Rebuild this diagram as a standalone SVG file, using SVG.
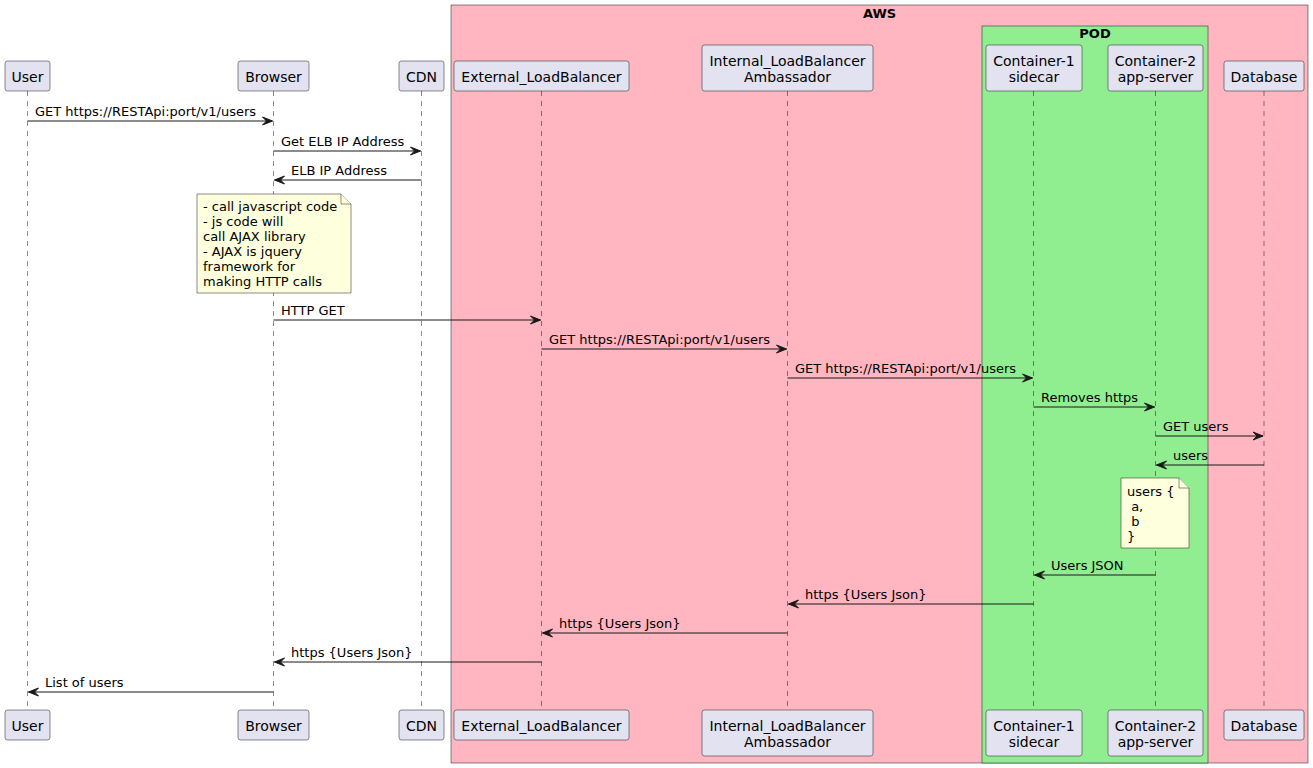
<svg xmlns="http://www.w3.org/2000/svg" width="1313" height="768" viewBox="0 0 1313 768">
<style>
text{font-family:"DejaVu Sans","Liberation Sans",sans-serif;font-size:13px;fill:#000;white-space:pre}
.t{font-weight:bold}
.c{text-anchor:middle}
.pt{font-size:14px}
.p{fill:#E2E2F0;stroke:#181818;stroke-width:0.5}
.ll{stroke:#181818;stroke-width:0.5;stroke-dasharray:5,5}
.m{stroke:#181818;stroke-width:1;fill:none;marker-end:url(#ah)}
.n{fill:#FEFFDD;stroke:#181818;stroke-width:0.5}
</style>
<defs>
<marker id="ah" viewBox="-1 -1 12 10" refX="10" refY="4" markerWidth="12" markerHeight="10" markerUnits="userSpaceOnUse" orient="auto" overflow="visible">
<path d="M0,0 L10,4 L0,8 L4,4 Z" fill="#181818" stroke="#181818" stroke-width="1" stroke-linejoin="miter"/>
</marker>
</defs>
<rect width="1313" height="768" fill="#FFFFFF"/>
<g id="box-aws">
<rect x="451" y="5" width="857" height="758" fill="#FFB6C1" stroke="#181818" stroke-width="0.5"/>
<text class="t c" x="879.5" y="18">AWS</text>
</g>
<g id="box-pod">
<rect x="982" y="26" width="226" height="737" fill="#90EE90" stroke="#181818" stroke-width="0.5"/>
<text class="t c" x="1095" y="38">POD</text>
</g>
<g id="lifelines">
<line class="ll" x1="27.5" y1="91" x2="27.5" y2="710"/>
<line class="ll" x1="273.5" y1="91" x2="273.5" y2="710"/>
<line class="ll" x1="421.5" y1="91" x2="421.5" y2="710"/>
<line class="ll" x1="541.5" y1="91" x2="541.5" y2="710"/>
<line class="ll" x1="787.5" y1="91" x2="787.5" y2="710"/>
<line class="ll" x1="1033.5" y1="91" x2="1033.5" y2="710"/>
<line class="ll" x1="1155.5" y1="91" x2="1155.5" y2="710"/>
<line class="ll" x1="1264" y1="91" x2="1264" y2="710"/>
</g>
<g id="user">
<rect class="p" x="5" y="61" width="45" height="30" rx="2.5"/>
<text class="c pt" x="27.5" y="82">User</text>
<rect class="p" x="5" y="710" width="45" height="30" rx="2.5"/>
<text class="c pt" x="27.5" y="731">User</text>
</g>
<g id="browser">
<rect class="p" x="238" y="61" width="71" height="30" rx="2.5"/>
<text class="c pt" x="273.5" y="82">Browser</text>
<rect class="p" x="238" y="710" width="71" height="30" rx="2.5"/>
<text class="c pt" x="273.5" y="731">Browser</text>
</g>
<g id="cdn">
<rect class="p" x="399" y="61" width="45" height="30" rx="2.5"/>
<text class="c pt" x="421.5" y="82">CDN</text>
<rect class="p" x="399" y="710" width="45" height="30" rx="2.5"/>
<text class="c pt" x="421.5" y="731">CDN</text>
</g>
<g id="external-lb">
<rect class="p" x="454" y="61" width="175" height="30" rx="2.5"/>
<text class="c pt" x="541.5" y="82">External_LoadBalancer</text>
<rect class="p" x="454" y="710" width="175" height="30" rx="2.5"/>
<text class="c pt" x="541.5" y="731">External_LoadBalancer</text>
</g>
<g id="internal-lb">
<rect class="p" x="702" y="45" width="171" height="46" rx="2.5"/>
<text class="c pt" x="787.5" y="66">Internal_LoadBalancer</text>
<text class="c pt" x="787.5" y="82">Ambassador</text>
<rect class="p" x="702" y="710" width="171" height="46" rx="2.5"/>
<text class="c pt" x="787.5" y="731">Internal_LoadBalancer</text>
<text class="c pt" x="787.5" y="747">Ambassador</text>
</g>
<g id="container-1">
<rect class="p" x="986" y="45" width="96" height="46" rx="2.5"/>
<text class="c pt" x="1034" y="66">Container-1</text>
<text class="c pt" x="1034" y="82">sidecar</text>
<rect class="p" x="986" y="710" width="96" height="46" rx="2.5"/>
<text class="c pt" x="1034" y="731">Container-1</text>
<text class="c pt" x="1034" y="747">sidecar</text>
</g>
<g id="container-2">
<rect class="p" x="1108" y="45" width="95" height="46" rx="2.5"/>
<text class="c pt" x="1155.5" y="66">Container-2</text>
<text class="c pt" x="1155.5" y="82">app-server</text>
<rect class="p" x="1108" y="710" width="95" height="46" rx="2.5"/>
<text class="c pt" x="1155.5" y="731">Container-2</text>
<text class="c pt" x="1155.5" y="747">app-server</text>
</g>
<g id="database">
<rect class="p" x="1224" y="61" width="80" height="30" rx="2.5"/>
<text class="c pt" x="1264" y="82">Database</text>
<rect class="p" x="1224" y="710" width="80" height="30" rx="2.5"/>
<text class="c pt" x="1264" y="731">Database</text>
</g>
<g id="note-browser">
<path class="n" d="M197,194 L197,293 L351,293 L351,204 L341,194 Z"/>
<path class="n" d="M341,194 L341,204 L351,204"/>
<text x="203" y="210.5">- call javascript code</text>
<text x="203" y="225.6">- js code will</text>
<text x="203" y="240.8">call AJAX library</text>
<text x="203" y="255.9">- AJAX is jquery</text>
<text x="203" y="271">framework for</text>
<text x="203" y="286.2">making HTTP calls</text>
</g>
<g id="note-users">
<path class="n" d="M1121,478 L1121,548 L1189,548 L1189,488 L1179,478 Z"/>
<path class="n" d="M1179,478 L1179,488 L1189,488"/>
<text x="1127" y="496">users {</text>
<text x="1127" y="511"> a,</text>
<text x="1127" y="526"> b</text>
<text x="1127" y="541">}</text>
</g>
<g id="connectors">
<line class="m" x1="27.5" y1="121" x2="272.5" y2="121"/>
<text x="35" y="116">GET https://RESTApi:port/v1/users</text>
<line class="m" x1="273.5" y1="151" x2="420.5" y2="151"/>
<text x="281" y="146">Get ELB IP Address</text>
<line class="m" x1="421.5" y1="180" x2="274.5" y2="180"/>
<text x="291" y="175">ELB IP Address</text>
<line class="m" x1="273.5" y1="320" x2="540.5" y2="320"/>
<text x="281" y="315">HTTP GET</text>
<line class="m" x1="541.5" y1="349" x2="786.5" y2="349"/>
<text x="549" y="344">GET https://RESTApi:port/v1/users</text>
<line class="m" x1="787.5" y1="378" x2="1032.5" y2="378"/>
<text x="795" y="373">GET https://RESTApi:port/v1/users</text>
<line class="m" x1="1033.5" y1="407" x2="1154.5" y2="407"/>
<text x="1041" y="402">Removes https</text>
<line class="m" x1="1155.5" y1="436" x2="1263" y2="436"/>
<text x="1163" y="431">GET users</text>
<line class="m" x1="1264" y1="465" x2="1156.5" y2="465"/>
<text x="1173" y="460">users</text>
<line class="m" x1="1155.5" y1="575" x2="1034.5" y2="575"/>
<text x="1051" y="570">Users JSON</text>
<line class="m" x1="1033.5" y1="604" x2="788.5" y2="604"/>
<text x="805" y="599">https {Users Json}</text>
<line class="m" x1="787.5" y1="633" x2="542.5" y2="633"/>
<text x="559" y="628">https {Users Json}</text>
<line class="m" x1="541.5" y1="662" x2="274.5" y2="662"/>
<text x="291" y="657">https {Users Json}</text>
<line class="m" x1="273.5" y1="692" x2="28.5" y2="692"/>
<text x="45" y="687">List of users</text>
</g>
</svg>
